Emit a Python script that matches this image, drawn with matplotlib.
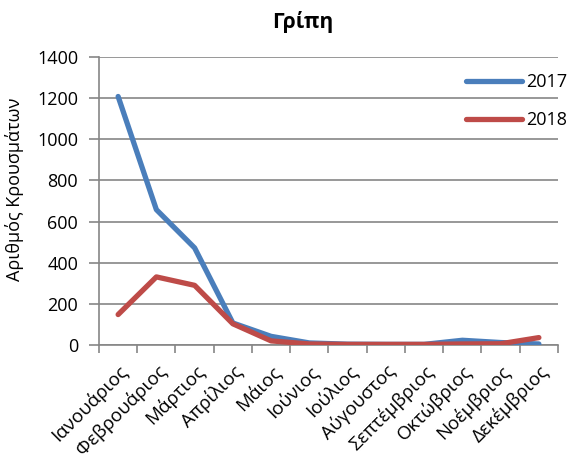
import matplotlib
matplotlib.use("Agg")
import matplotlib.pyplot as plt
from matplotlib.ticker import FixedLocator

plt.rcParams['font.family'] = ['Open Sans', 'Noto Sans', 'DejaVu Sans']

months = ["Ιανουάριος", "Φεβρουάριος", "Μάρτιος", "Απρίλιος", "Μάιος", "Ιούνιος",
          "Ιούλιος", "Αύγουστος", "Σεπτέμβριος", "Οκτώβριος", "Νοέμβριος", "Δεκέμβριος"]
cases_2017 = [1208, 658, 472, 107, 42, 10, 4, 3, 3, 23, 12, 5]
cases_2018 = [148, 331, 290, 103, 20, 5, 3, 3, 3, 5, 6, 36]
yticks = [0, 200, 400, 600, 800, 1000, 1200, 1400]

blue = "#4A7EBB"
red = "#BE4B48"
grid = "#868686"

fig = plt.figure(figsize=(5.72, 4.61), dpi=100)
ax = fig.add_axes([99/572, 1-345/461, (558-99)/572, (345-57)/461])

x = list(range(len(months)))
ax.plot(x, cases_2017, color=blue, lw=3.8, solid_capstyle='round', solid_joinstyle='round', label="2017", zorder=3)
ax.plot(x, cases_2018, color=red, lw=3.8, solid_capstyle='round', solid_joinstyle='round', label="2018", zorder=4)

ax.set_xlim(-0.5, len(months)-0.5)
ax.set_ylim(0, 1400)
ax.set_yticks(yticks)
ax.set_yticklabels([str(v) for v in yticks], fontsize=13)
ax.yaxis.grid(True, color=grid, lw=1.2)
ax.set_axisbelow(True)

ax.set_xticks(x)
ax.set_xticklabels(months, rotation=45, ha='right', rotation_mode='anchor', fontsize=13.5)
ax.xaxis.set_minor_locator(FixedLocator([i-0.5 for i in range(len(months)+1)]))
ax.tick_params(axis='x', which='major', length=0, pad=12)
ax.tick_params(axis='x', which='minor', length=6, color=grid, width=1.2)
ax.tick_params(axis='y', length=7, color=grid, width=1.2, pad=8)

for s in ['top', 'right']:
    ax.spines[s].set_visible(False)
for s in ['left', 'bottom']:
    ax.spines[s].set_color(grid)
    ax.spines[s].set_linewidth(1.2)

ax.set_ylabel("Αριθμός Κρουσμάτων", fontsize=13)
ax.yaxis.set_label_coords(24/572, 1-189/461, transform=fig.transFigure)
fig.text(303/572, 1-22/461, "Γρίπη", ha='center', va='center', fontsize=15, fontweight='bold')

leg = ax.legend(loc='upper left', bbox_to_anchor=(466/572, 1-73/461), bbox_transform=fig.transFigure,
                frameon=False, fontsize=13, handlelength=3.1, handletextpad=0.25,
                labelspacing=1.1, borderpad=0, borderaxespad=0)

fig.savefig("out.png", dpi=100)
